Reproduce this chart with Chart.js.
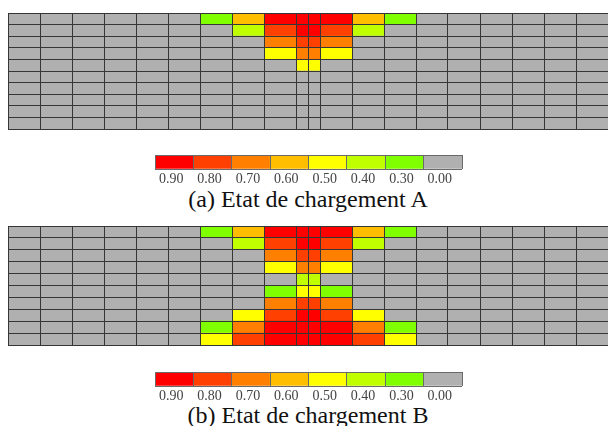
<!DOCTYPE html>
<html>
<head>
<meta charset="utf-8">
<script src="https://cdn.jsdelivr.net/npm/chart.js@4"></script>
<style>
  html, body { margin: 0; padding: 0; background: #fff; overflow: hidden; }
  body { width: 608px; height: 426px; position: relative; }
  canvas { position: absolute; left: 0; }
  .cap { position: absolute; left: 0; width: 616px; text-align: center;
         font-family: "Liberation Serif", "DejaVu Serif", serif; font-size: 24px;
         line-height: 26px; color: #111; }
</style>
</head>
<body>
<canvas id="mapA" width="609" height="130" style="top:0"></canvas>
<canvas id="barA" width="608" height="33" style="top:150px"></canvas>
<div class="cap" style="top:186px">(a) Etat de chargement A</div>
<canvas id="mapB" width="609" height="133" style="top:213px"></canvas>
<canvas id="barB" width="608" height="33" style="top:367px"></canvas>
<div class="cap" style="top:402px">(b) Etat de chargement B</div>
<script>
"use strict";

// colour scale (legend)
const levelLabels = ['0.90', '0.80', '0.70', '0.60', '0.50', '0.40', '0.30', '0.00'];
const levelValues = [0.9, 0.8, 0.7, 0.6, 0.5, 0.4, 0.3, 0.0];
const levelColors = ['#ff0000', '#ff4000', '#ff8000', '#ffbf00', '#ffff00', '#bfff00', '#80ff00', '#b0b0b0'];

// mesh: 20 columns (two narrow ones in the middle), 10 rows
const colWidths = [8, 8, 8, 8, 8, 8, 8, 8, 8, 3, 3, 8, 8, 8, 8, 8, 8, 8, 8, 8];
const rowLabels = ['1', '2', '3', '4', '5', '6', '7', '8', '9', '10'];

// Etat de chargement A
const loadA = [
    [0, 0, 0, 0, 0, 0, .3, .6, .9, .9, .9, .9, .6, .3, 0, 0, 0, 0, 0, 0],
    [0, 0, 0, 0, 0, 0, 0, .4, .8, .9, .9, .8, .4, 0, 0, 0, 0, 0, 0, 0],
    [0, 0, 0, 0, 0, 0, 0, 0, .7, .8, .8, .7, 0, 0, 0, 0, 0, 0, 0, 0],
    [0, 0, 0, 0, 0, 0, 0, 0, .5, .7, .7, .5, 0, 0, 0, 0, 0, 0, 0, 0],
    [0, 0, 0, 0, 0, 0, 0, 0, 0, .5, .5, 0, 0, 0, 0, 0, 0, 0, 0, 0],
    [0, 0, 0, 0, 0, 0, 0, 0, 0, 0, 0, 0, 0, 0, 0, 0, 0, 0, 0, 0],
    [0, 0, 0, 0, 0, 0, 0, 0, 0, 0, 0, 0, 0, 0, 0, 0, 0, 0, 0, 0],
    [0, 0, 0, 0, 0, 0, 0, 0, 0, 0, 0, 0, 0, 0, 0, 0, 0, 0, 0, 0],
    [0, 0, 0, 0, 0, 0, 0, 0, 0, 0, 0, 0, 0, 0, 0, 0, 0, 0, 0, 0],
    [0, 0, 0, 0, 0, 0, 0, 0, 0, 0, 0, 0, 0, 0, 0, 0, 0, 0, 0, 0]
];

// Etat de chargement B
const loadB = [
    [0, 0, 0, 0, 0, 0, .3, .6, .9, .9, .9, .9, .6, .3, 0, 0, 0, 0, 0, 0],
    [0, 0, 0, 0, 0, 0, 0, .4, .8, .9, .9, .8, .4, 0, 0, 0, 0, 0, 0, 0],
    [0, 0, 0, 0, 0, 0, 0, 0, .7, .8, .8, .7, 0, 0, 0, 0, 0, 0, 0, 0],
    [0, 0, 0, 0, 0, 0, 0, 0, .5, .7, .7, .5, 0, 0, 0, 0, 0, 0, 0, 0],
    [0, 0, 0, 0, 0, 0, 0, 0, 0, .4, .4, 0, 0, 0, 0, 0, 0, 0, 0, 0],
    [0, 0, 0, 0, 0, 0, 0, 0, .3, .5, .5, .3, 0, 0, 0, 0, 0, 0, 0, 0],
    [0, 0, 0, 0, 0, 0, 0, 0, .7, .8, .8, .7, 0, 0, 0, 0, 0, 0, 0, 0],
    [0, 0, 0, 0, 0, 0, 0, .5, .8, .9, .9, .8, .5, 0, 0, 0, 0, 0, 0, 0],
    [0, 0, 0, 0, 0, 0, .3, .7, .9, .9, .9, .9, .7, .3, 0, 0, 0, 0, 0, 0],
    [0, 0, 0, 0, 0, 0, .5, .8, .9, .9, .9, .9, .8, .5, 0, 0, 0, 0, 0, 0]
];

const gridColor = '#363636';
const serif = "'Liberation Serif', 'DejaVu Serif', serif";

const colEdges = [0];
colWidths.forEach(w => colEdges.push(colEdges[colEdges.length - 1] + w));
const total = colEdges[colEdges.length - 1];

function colorOf(v) {
    const i = levelValues.findIndex(l => Math.abs(l - v) < 0.001);
    return levelColors[i < 0 ? levelColors.length - 1 : i];
}

function drawMap(id, values, pad) {
    const datasets = colWidths.map((w, c) => ({
        data: values.map(row => [colEdges[c], colEdges[c + 1]]),
        backgroundColor: values.map(row => colorOf(row[c])),
        borderWidth: 0,
        grouped: false,
        barPercentage: 1,
        categoryPercentage: 1
    }));
    new Chart(document.getElementById(id), {
        type: 'bar',
        data: { labels: rowLabels, datasets: datasets },
        options: {
            indexAxis: 'y',
            responsive: false,
            animation: false,
            layout: { padding: pad },
            plugins: { legend: { display: false }, tooltip: { enabled: false } },
            scales: {
                x: {
                    type: 'linear', min: 0, max: total,
                    afterBuildTicks: s => { s.ticks = colEdges.map(v => ({ value: v })); },
                    ticks: { display: false },
                    grid: { color: gridColor, drawTicks: false, z: 1 },
                    border: { display: false }
                },
                y: {
                    type: 'category',
                    ticks: { display: false },
                    grid: { color: gridColor, drawTicks: false, offset: true, z: 1 },
                    border: { display: false }
                }
            }
        }
    });
}

function drawScale(id) {
    new Chart(document.getElementById(id), {
        type: 'bar',
        data: {
            labels: levelLabels,
            datasets: [{
                data: levelLabels.map(() => 1),
                backgroundColor: levelColors,
                borderWidth: 0,
                barPercentage: 1,
                categoryPercentage: 1
            }]
        },
        options: {
            responsive: false,
            animation: false,
            layout: { padding: { left: 155, right: 146, top: 5, bottom: 0 } },
            plugins: { legend: { display: false }, tooltip: { enabled: false } },
            scales: {
                x: {
                    ticks: { font: { family: serif, size: 14 }, color: '#444', padding: 2,
                             labelOffset: -3, maxRotation: 0, autoSkip: false },
                    grid: { color: '#6a6a6a', drawTicks: false, offset: true, z: 1 },
                    border: { display: false }
                },
                y: {
                    min: 0, max: 1,
                    afterBuildTicks: s => { s.ticks = [{ value: 0 }, { value: 1 }]; },
                    ticks: { display: false },
                    grid: { color: '#6a6a6a', drawTicks: false, z: 1 },
                    border: { display: false }
                }
            }
        }
    });
}

drawMap('mapA', loadA, { left: 8, top: 13, right: 1, bottom: 1 });
drawScale('barA');
drawMap('mapB', loadB, { left: 8, top: 13, right: 1, bottom: 1 });
drawScale('barB');
</script>
</body>
</html>
